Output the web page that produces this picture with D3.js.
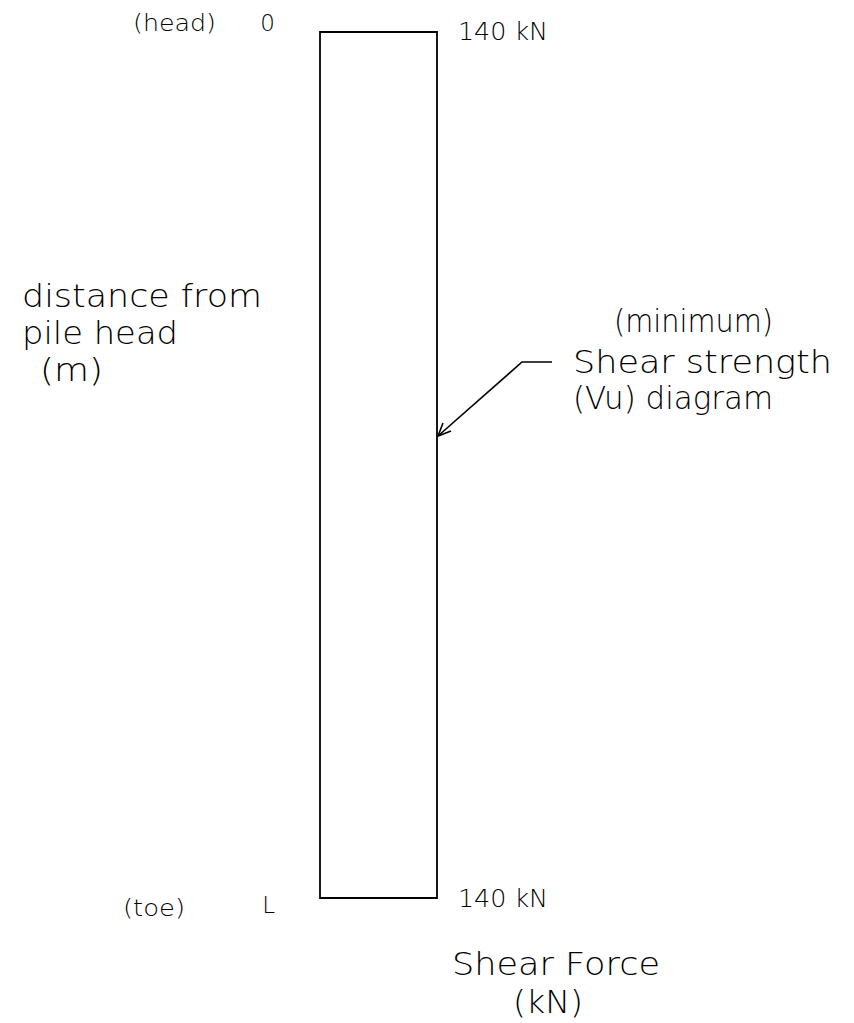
<!DOCTYPE html>
<html>
<head>
<meta charset="utf-8">
<script src="https://cdn.jsdelivr.net/npm/d3@7"></script>
<style>
  html, body { margin: 0; padding: 0; background: #fff; }
  svg text { font-family: "DejaVu Sans", sans-serif; font-weight: 200; fill: #000; }
</style>
</head>
<body>
<div id="chart"></div>
<script>
// pile positions along the shaft and their names
const depthLabels = ['0', 'L'];
const endLabels = ['(head)', '(toe)'];
// minimum shear strength Vu (kN) at each position
const shearValues = [140, 140];
const unit = 'kN';

const width = 854;
const height = 1023;

const svg = d3.select('#chart').append('svg')
  .attr('width', width)
  .attr('height', height);

// scales
const x = d3.scaleLinear().domain([0, 140]).range([320, 437]);
const y = d3.scalePoint().domain(depthLabels).range([32, 898]);

const pts = depthLabels.map((d, i) => ({ depth: d, v: shearValues[i] }));

// diagram outline: zero axis at left, shear values on the right
const outline = [{ depth: pts[0].depth, v: 0 }]
  .concat(pts)
  .concat([{ depth: pts[pts.length - 1].depth, v: 0 }]);
svg.append('path')
  .attr('d', d3.line().x((d) => x(d.v)).y((d) => y(d.depth))(outline) + 'Z')
  .attr('fill', 'none')
  .attr('stroke', '#000')
  .attr('stroke-width', 1.8);

// depth labels left of the diagram
const depthOffset = [-1, 15];
svg.selectAll('.depth')
  .data(depthLabels)
  .enter().append('text')
  .attr('x', 275)
  .attr('y', (d, i) => y(d) + depthOffset[i])
  .attr('text-anchor', 'end')
  .attr('font-size', 23)
  .attr('font-weight', 400)
  .text((d) => d);

const endX = [133, 123];
const endOffset = [-1, 18];
svg.selectAll('.end')
  .data(endLabels)
  .enter().append('text')
  .attr('x', (d, i) => endX[i])
  .attr('y', (d, i) => y(depthLabels[i]) + endOffset[i])
  .attr('font-size', 23)
  .attr('font-weight', 400)
  .attr('textLength', (d, i) => [83, 62][i])
  .attr('lengthAdjust', 'spacingAndGlyphs')
  .text((d) => d);

// value labels at the right
svg.selectAll('.val')
  .data(pts)
  .enter().append('text')
  .attr('x', 458)
  .attr('y', (d, i) => y(d.depth) + [8, 9][i])
  .attr('font-size', 25)
  .attr('font-weight', 400)
  .attr('textLength', 90)
  .attr('lengthAdjust', 'spacingAndGlyphs')
  .text((d) => `${d.v} ${unit}`);

// multi-line labels
function block(lines) {
  lines.forEach((l) => {
    svg.append('text')
      .attr('x', l.x)
      .attr('y', l.y)
      .attr('font-size', 32)
      .attr('textLength', l.w)
      .attr('lengthAdjust', 'spacingAndGlyphs')
      .text(l.t);
  });
}

block([
  { t: 'distance from', x: 22, y: 307, w: 240 },
  { t: 'pile head', x: 22, y: 344, w: 156 },
  { t: '(m)', x: 40, y: 381, w: 63 },
]);

block([
  { t: '(minimum)', x: 614, y: 332, w: 159 },
  { t: 'Shear strength', x: 573, y: 373, w: 259 },
  { t: '(Vu) diagram', x: 573, y: 409, w: 200 },
]);

block([
  { t: 'Shear Force', x: 452, y: 975, w: 208 },
  { t: '(kN)', x: 513, y: 1013, w: 70 },
]);

// leader with open arrowhead pointing at the diagram edge
const tip = [x(shearValues[0]) + 1, 436];
svg.append('path')
  .attr('d', `M552,362 L522,362 L${tip[0]},${tip[1]}`)
  .attr('fill', 'none')
  .attr('stroke', '#000')
  .attr('stroke-width', 1.6);
svg.append('path')
  .attr('d', `M${tip[0] + 5},${tip[1] - 13} L${tip[0]},${tip[1]} L${tip[0] + 13},${tip[1] - 5}`)
  .attr('fill', 'none')
  .attr('stroke', '#000')
  .attr('stroke-width', 1.6);
</script>
</body>
</html>
